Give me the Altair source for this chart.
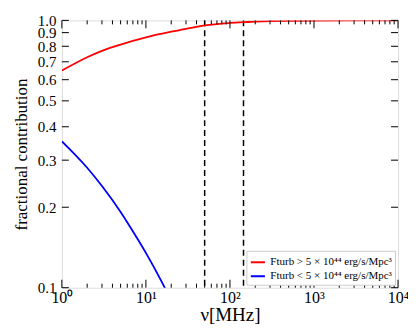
import altair as alt
import pandas as pd

# ---- data ----
freq_red = [1, 2, 3, 5, 10, 20, 30, 50, 100, 150, 200, 300, 500, 1000, 3000, 10000]
frac_red = [0.649, 0.728, 0.769, 0.812, 0.864, 0.907, 0.930, 0.958, 0.978, 0.985, 0.989, 0.993, 0.996, 0.999, 1.0, 1.0]
freq_blue = [1, 2, 3, 5, 7, 10, 15, 20]
frac_blue = [0.353, 0.281, 0.240, 0.192, 0.1625, 0.135, 0.107, 0.0895]
label_red = "Fturb > 5 × 10⁴⁴ erg/s/Mpc³"
label_blue = "Fturb < 5 × 10⁴⁴ erg/s/Mpc³"
nu_marks = [50, 145]

x_major = [1, 10, 100, 1000, 10000]
x_minor = [m * 10 ** e for e in range(4) for m in range(2, 10)]
y_ticks = [0.1, 0.2, 0.3, 0.4, 0.5, 0.6, 0.7, 0.8, 0.9, 1.0]

df = pd.DataFrame(
    {"nu": freq_red + freq_blue,
     "frac": frac_red + frac_blue,
     "series": [label_red] * len(freq_red) + [label_blue] * len(freq_blue),
     "order": list(range(len(freq_red) + len(freq_blue)))}
)
df_v = pd.DataFrame({"nu": nu_marks})
df_xmaj = pd.DataFrame({"nu": x_major})
df_xmin = pd.DataFrame({"nu": x_minor})
df_y = pd.DataFrame({"frac": y_ticks})

W, H = 337, 268
FONT = "Liberation Serif"
x_label_expr = ("datum.value == 1 ? '10⁰' : datum.value == 10 ? '10¹' : datum.value == 100 ? '10²' : "
                "datum.value == 1000 ? '10³' : datum.value == 10000 ? '10⁴' : ''")

xscale = alt.Scale(type="log", domain=[1, 10000], nice=False)
yscale = alt.Scale(type="log", domain=[0.1, 1.0], nice=False)

x_axis = alt.Axis(orient="bottom", values=x_major, labelExpr=x_label_expr, grid=False, domain=False,
                  ticks=False, labelFont=FONT, labelFontSize=16, labelColor="black", labelPadding=2,
                  title="ν[MHz]", titleFont=FONT, titleFontSize=19, titleFontWeight="normal",
                  titleColor="black", titlePadding=0, labelFlush=False, labelOverlap=False)
y_axis = alt.Axis(orient="left", values=y_ticks, format=".1f", grid=False, domain=False, ticks=False,
                  labelFont=FONT, labelFontSize=15, labelColor="black", labelPadding=6,
                  title="fractional contribution", titleFont=FONT, titleFontSize=17,
                  titleFontWeight="normal", titleColor="black", titlePadding=7, labelOverlap=False)

lines = alt.Chart(df).mark_line(strokeWidth=1.8, clip=True, interpolate="monotone").encode(
    x=alt.X("nu:Q", scale=xscale, axis=x_axis),
    y=alt.Y("frac:Q", scale=yscale, axis=y_axis),
    color=alt.Color("series:N",
                    scale=alt.Scale(domain=[label_red, label_blue], range=["#ff0000", "#0000ff"]),
                    legend=alt.Legend(title=None, orient="bottom-right", offset=3,
                                      symbolType="stroke", symbolSize=200, symbolStrokeWidth=2,
                                      labelFont=FONT, labelFontSize=11, labelColor="black",
                                      strokeColor="#cccccc", fillColor="white", padding=3,
                                      rowPadding=0, labelLimit=300, zindex=3)),
    order="order:Q",
)

vlines = alt.Chart(df_v).mark_rule(color="black", strokeWidth=1.5, strokeDash=[6, 4]).encode(
    x=alt.X("nu:Q", scale=xscale, axis=None),
)

# inward tick marks on all four sides
def xticks(data, y0, y1):
    return alt.Chart(data).mark_rule(color="black", strokeWidth=1).encode(
        x=alt.X("nu:Q", scale=xscale, axis=None), y=alt.value(y0), y2=alt.value(y1))

def yticks(x0, x1):
    return alt.Chart(df_y).mark_rule(color="black", strokeWidth=1).encode(
        y=alt.Y("frac:Q", scale=yscale, axis=None), x=alt.value(x0), x2=alt.value(x1))

ticks = [
    xticks(df_xmaj, H, H - 8), xticks(df_xmin, H, H - 4),
    xticks(df_xmaj, 0, 8), xticks(df_xmin, 0, 4),
    yticks(0, 7), yticks(W, W - 7),
]

chart = alt.layer(vlines, lines, *ticks).resolve_axis(x="independent", y="independent").properties(
    width=W, height=H,
    autosize=alt.AutoSizeParams(type="none"),
    padding={"left": 54, "top": 12, "right": 10, "bottom": 50},
).configure_view(stroke="black", strokeWidth=1.2).configure(background="white")

chart.save("out.html", embed_options={"renderer": "svg", "actions": False})
